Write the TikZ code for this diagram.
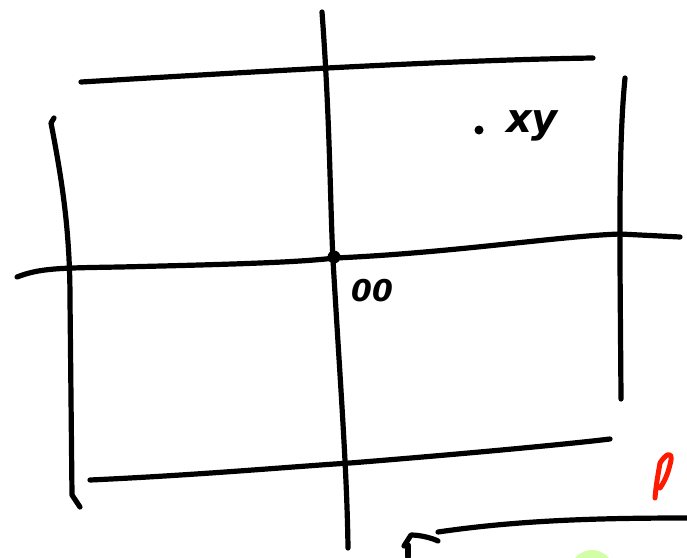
\documentclass[tikz,border=0pt]{standalone}
\usepackage{fontspec}
\setmainfont{DejaVu Sans}
\begin{document}
\begin{tikzpicture}[x=1pt,y=-1pt,
  stroke/.style={line width=5.2pt,line cap=round,line join=round,black},
  hand/.style={font=\bfseries\itshape\fontsize{30}{30}\selectfont,inner sep=0pt}]
\useasboundingbox (0,0) rectangle (687,557);
% top horizontal
\draw[stroke] (81,82) .. controls (250,72) and (450,60) .. (593,58);
% centre vertical
\draw[stroke] (322,12) .. controls (330,120) and (330,200) .. (333,260) .. controls (340,380) and (347,470) .. (348,548);
% left vertical
\draw[stroke] (54,118) -- (51,123) .. controls (62,180) and (70,230) .. (70,300) -- (72,495) -- (80,507);
% middle horizontal
\draw[stroke] (17,277) .. controls (40,268) and (60,268) .. (120,267) .. controls (250,264) and (300,262) .. (335,258) .. controls (450,253) and (560,236) .. (620,234) -- (680,237);
% right vertical
\draw[stroke] (625,78) .. controls (618,150) and (620,250) .. (621,399);
% bottom horizontal
\draw[stroke] (90,480) .. controls (200,475) and (300,466) .. (350,463) .. controls (450,455) and (560,445) .. (610,439);
% bottom right
\draw[stroke] (438,532) .. controls (520,520) and (600,518) .. (687,518);
\draw[stroke] (404,546) -- (411,535) .. controls (420,535) and (432,538) .. (438,541);
\draw[stroke] (408,545) -- (408,557);
% centre dot
\fill (334,257) circle (6.5);
% green blob
\fill[green!50!yellow!35] (592,572) circle (22);
% red mark
\draw[red!80!orange,line width=5pt,line cap=round,line join=round] (655,498) .. controls (656,485) and (658,475) .. (660,463) .. controls (665,455) and (672,450) .. (671,460) .. controls (668,475) and (664,482) .. (660,488);
% dot near xy
\fill (479,130) circle (4.5);
% labels
\node[hand] (oo) at (372,291) {00};
\node[hand,font=\bfseries\itshape\fontsize{40}{40}\selectfont] (xy) at (532,126) {xy};
\end{tikzpicture}
\end{document}
